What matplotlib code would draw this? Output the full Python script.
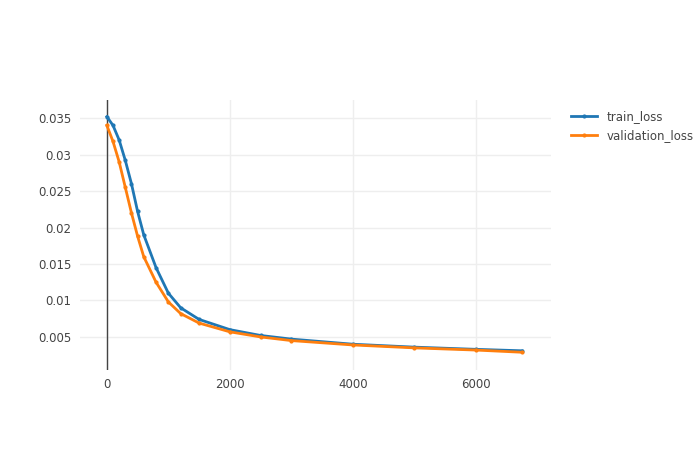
import matplotlib
matplotlib.use("Agg")
import matplotlib.pyplot as plt

# Datos
pasos = [0, 100, 200, 300, 400, 500, 600, 800, 1000, 1200, 1500, 2000, 2500, 3000, 4000, 5000, 6000, 6750]
train_loss = [0.0352, 0.0340, 0.0320, 0.0292, 0.0260, 0.0222, 0.0190, 0.0145, 0.0110, 0.0090, 0.0074,
              0.0060, 0.0052, 0.0047, 0.0040, 0.0036, 0.0033, 0.0031]
validation_loss = [0.0340, 0.0318, 0.0290, 0.0255, 0.0220, 0.0188, 0.0160, 0.0125, 0.0098, 0.0082, 0.0069,
                   0.0057, 0.0050, 0.0045, 0.0039, 0.0035, 0.0032, 0.0029]
y_ticks = [0.005, 0.01, 0.015, 0.02, 0.025, 0.03, 0.035]
y_labels = ["0.005", "0.01", "0.015", "0.02", "0.025", "0.03", "0.035"]
x_ticks = [0, 2000, 4000, 6000]

fig = plt.figure(figsize=(7, 4.5), dpi=100)
ax = fig.add_axes([0.114, 0.178, 0.673, 0.6])

ax.plot(pasos, train_loss, color="#1f77b4", lw=2, marker="o", ms=2, label="train_loss")
ax.plot(pasos, validation_loss, color="#ff7f0e", lw=2, marker="o", ms=2, label="validation_loss")

ax.set_xlim(-440, 7220)
ax.set_ylim(0.00048, 0.0375)
ax.set_xticks(x_ticks)
ax.set_xticklabels([str(v) for v in x_ticks])
ax.set_yticks(y_ticks)
ax.set_yticklabels(y_labels)
ax.grid(True, color="#eeeeee", lw=1)
ax.set_axisbelow(True)
ax.axvline(0, color="#444444", lw=1, zorder=1)
for s in ax.spines.values():
    s.set_visible(False)
ax.tick_params(length=0, labelsize=8.5, labelcolor="#444444", pad=6)

ax.legend(loc="upper left", bbox_to_anchor=(1.02, 1.0), frameon=False, fontsize=8.5,
          handlelength=2.2, labelcolor="#444444")

plt.savefig("out.png")
plt.close()
